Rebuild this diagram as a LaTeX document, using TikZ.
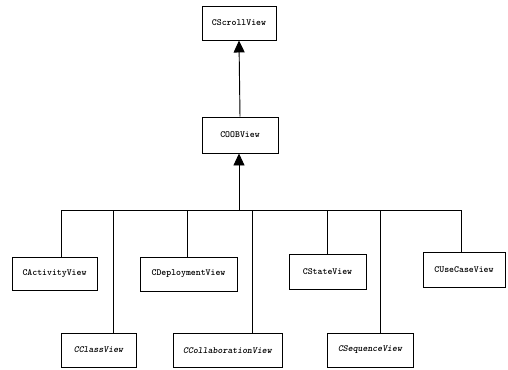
\documentclass[tikz,border=0pt]{standalone}
\usepackage{tikz}
\usetikzlibrary{arrows.meta}
\tikzset{
  every node/.style={font=\fontsize{8}{9}\selectfont\ttfamily\bfseries},
  classbox/.style={
    rectangle, draw=black, fill=white, line width=0.8pt,
    minimum height=1.02cm, inner sep=1pt, align=center
  },
  link/.style={draw=black, line width=0.8pt},
  inherit/.style={
    -{Triangle[length=0.36cm,width=0.33cm]},
    draw=black, line width=0.8pt
  },
}
\begin{document}
\begin{tikzpicture}[x=0.03cm, y=-0.03cm]
  \useasboundingbox (0,0) rectangle (508,370);
  % base classes
  \node[classbox, minimum width=2.22cm] (scroll) at (239,23) {CScrollView};
  \node[classbox, minimum width=2.28cm, minimum height=1.08cm] (coob) at (240,135) {COOBView};
  % derived views, upper row
  \node[classbox, minimum width=2.55cm, minimum height=0.99cm] (act) at (54.5,273.5) {CActivityView};
  \node[classbox, minimum width=2.91cm] (dep) at (188.5,274) {CDeploymentView};
  \node[classbox, minimum width=2.31cm, minimum height=1.05cm] (state) at (327.5,271.5) {CStateView};
  \node[classbox, minimum width=2.46cm, minimum height=1.05cm] (usecase) at (464,269.5) {CUseCaseView};
  % derived views, lower row
  \node[classbox, minimum width=2.25cm] (class) at (98.5,350) {\itshape CClassView};
  \node[classbox, minimum width=3.27cm] (collab) at (227.5,350.5) {\itshape CCollaborationView};
  \node[classbox, minimum width=2.58cm] (seq) at (370,350) {\itshape CSequenceView};
  % bus points
  \coordinate (b1) at (61,210);
  \coordinate (b2) at (113,210);
  \coordinate (b3) at (187,210);
  \coordinate (bt) at (239,210);
  \coordinate (b4) at (252,210);
  \coordinate (b5) at (327,210);
  \coordinate (b6) at (380,210);
  \coordinate (b7) at (461,210);
  \draw[inherit] (coob.north) -- (scroll.south);
  \draw[inherit] (bt) -- (bt |- coob.south);
  \draw[link] (b1) -- (b7);
  \draw[link] (b1) -- (b1 |- act.north);
  \draw[link] (b2) -- (b2 |- class.north);
  \draw[link] (b3) -- (b3 |- dep.north);
  \draw[link] (b4) -- (b4 |- collab.north);
  \draw[link] (b5) -- (b5 |- state.north);
  \draw[link] (b6) -- (b6 |- seq.north);
  \draw[link] (b7) -- (b7 |- usecase.north);
\end{tikzpicture}
\end{document}
